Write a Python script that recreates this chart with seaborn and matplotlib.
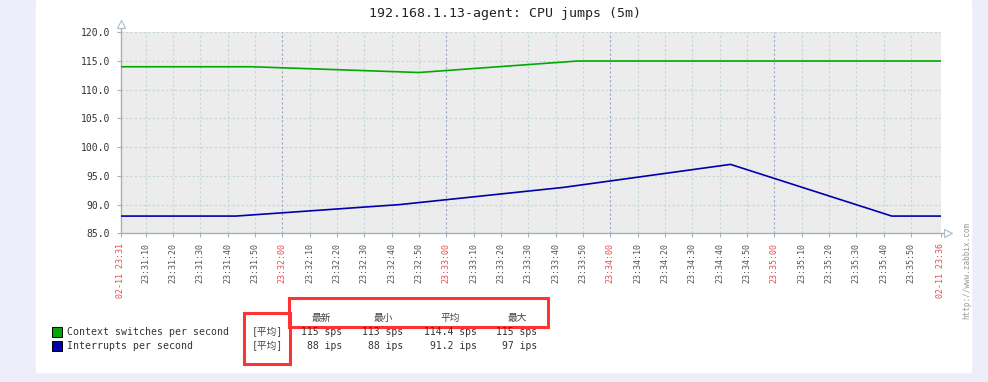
import pandas as pd
import seaborn as sns
import matplotlib.pyplot as plt
from matplotlib.patches import Rectangle


# Dados (Zabbix, janela de 5 minutos)

dia = '2015-02-11'
inicio = '23:31:01'
fim = '23:36:01'

ctx_horas = ['23:30:49', '23:31:49', '23:32:50', '23:33:48', '23:34:49', '23:35:49', '23:36:49']
ctx_valores = [114, 114, 113, 115, 115, 115, 115]

irq_horas = ['23:30:43', '23:31:43', '23:32:43', '23:33:43', '23:34:44', '23:35:43', '23:36:43']
irq_valores = [88, 88, 90, 93, 97, 88, 88]

series = ['Context switches per second', 'Interrupts per second']
cores = ['#00AA00', '#0000AA']
funcao = '[平均]'
cabecalho = ['最新', '最小', '平均', '最大']
estatisticas = [
    ['115 sps', '113 sps', '114.4 sps', '115 sps'],
    ['88 ips', '88 ips', '91.2 ips', '97 ips'],
]
titulo = '192.168.1.13-agent: CPU jumps (5m)'
y_ticks = [85, 90, 95, 100, 105, 110, 115, 120]


def hora(h):
    return pd.to_datetime(dia + ' ' + h)


df = pd.concat([
    pd.DataFrame({'hora': [hora(h) for h in ctx_horas], 'valor': ctx_valores, 'serie': series[0]}),
    pd.DataFrame({'hora': [hora(h) for h in irq_horas], 'valor': irq_valores, 'serie': series[1]}),
])

plt.rcParams['font.family'] = ['DejaVu Sans Mono', 'Noto Sans CJK SC']

W, H = 988, 382


def fx(x):
    return x / W


def fy(y):
    return 1 - y / H


fig = plt.figure(figsize=(W / 100, H / 100), dpi=100)
fig.patch.set_facecolor('#EEEEFB')
fig.add_artist(Rectangle((fx(36), fy(371.5)), fx(971) - fx(36), 371.5 / H,
                         transform=fig.transFigure, color='white', zorder=-5))

ax = fig.add_axes([fx(121), fy(233.3), fx(941) - fx(121), (233.3 - 32.3) / H])
ax.set_facecolor('#ECECEC')

sns.lineplot(data=df, x='hora', y='valor', hue='serie', palette=cores,
             legend=False, linewidth=1.2, ax=ax, zorder=5)

t0, t1 = hora(inicio), hora(fim)
ax.set_xlim(t0, t1)
ax.set_ylim(y_ticks[0], y_ticks[-1])

# grade
grade = '#C3D7D7'
for v in y_ticks[1:]:
    ax.axhline(v, color=grade, lw=0.8, ls=(0, (2, 2)), zorder=1)
marcas = list(pd.date_range(hora('23:31:10'), hora('23:35:50'), freq='10s'))
for t in marcas + [t1]:
    maior = t.second == 0
    ax.axvline(t, color='#9AAAC2' if maior else grade, lw=0.8, ls=(0, (2, 2)), zorder=1)

# eixos
for s in ax.spines.values():
    s.set_visible(False)
eixo = '#A6B0BC'
ax.plot([0, 0], [0, 1.035], transform=ax.transAxes, color=eixo, lw=1, clip_on=False)
ax.plot([0, 1.008], [0, 0], transform=ax.transAxes, color=eixo, lw=1, clip_on=False)
ax.plot(0, 1.04, transform=ax.transAxes, marker='^', ms=6, mfc='white', mec='#AABBC4',
        mew=0.8, clip_on=False)
ax.plot(1.009, 0, transform=ax.transAxes, marker='>', ms=6, mfc='white', mec='#AABBC4',
        mew=0.8, clip_on=False)

ax.set_yticks(y_ticks)
ax.set_yticklabels([f'{v:.1f}' for v in y_ticks], fontsize=7, color='#333333')

xt = [t0] + marcas + [t1]
rot = ['02-11 ' + t0.strftime('%H:%M')] + [t.strftime('%H:%M:%S') for t in marcas] + \
      ['02-11 ' + t1.strftime('%H:%M')]
ax.set_xticks(xt)
ax.set_xticklabels(rot, rotation=90, fontsize=6)
for lbl, t in zip(ax.get_xticklabels(), xt):
    lbl.set_color('#F04848' if (t.second == 0 or t in (t0, t1)) else '#555555')
ax.tick_params(axis='both', length=3, width=0.8, color=eixo)
ax.tick_params(axis='x', pad=4)
ax.tick_params(axis='y', pad=5)
ax.set_xlabel('')
ax.set_ylabel('')

fig.text(fx(505), fy(14), titulo, ha='center', va='center', fontsize=9.5, color='#222222')

# legenda
linhas_y = [332, 346]
cols_cab = [321, 383, 450, 517]
cols_val = [342, 403, 476.5, 537.5]
for i, (nome, cor) in enumerate(zip(series, cores)):
    y = linhas_y[i]
    fig.add_artist(Rectangle((fx(51.5), fy(y + 5)), fx(61.5) - fx(51.5), 10 / H,
                             transform=fig.transFigure, facecolor=cor,
                             edgecolor='black', lw=0.7))
    fig.text(fx(67), fy(y), nome, ha='left', va='center', fontsize=7.1, color='#333333')
    fig.text(fx(267), fy(y), funcao, ha='center', va='center', fontsize=7, color='#444444')
    for x, val in zip(cols_val, estatisticas[i]):
        fig.text(fx(x), fy(y), val, ha='right', va='center', fontsize=7, color='#333333')
for x, c in zip(cols_cab, cabecalho):
    fig.text(fx(x), fy(318), c, ha='center', va='center', fontsize=7, color='#444444')

# marcações em vermelho
for x0, y0, x1, y1 in [(243.5, 312.5, 290, 364), (288.5, 297.5, 548, 326.5)]:
    fig.add_artist(Rectangle((fx(x0), fy(y1)), fx(x1) - fx(x0), (y1 - y0) / H,
                             transform=fig.transFigure, fill=False,
                             edgecolor='#FF3333', lw=2.2))

fig.text(fx(967), fy(270), 'http://www.zabbix.com', rotation=90, ha='center', va='center',
         fontsize=5.5, color='#999999')

fig.savefig('out.png', dpi=100, facecolor=fig.get_facecolor())
